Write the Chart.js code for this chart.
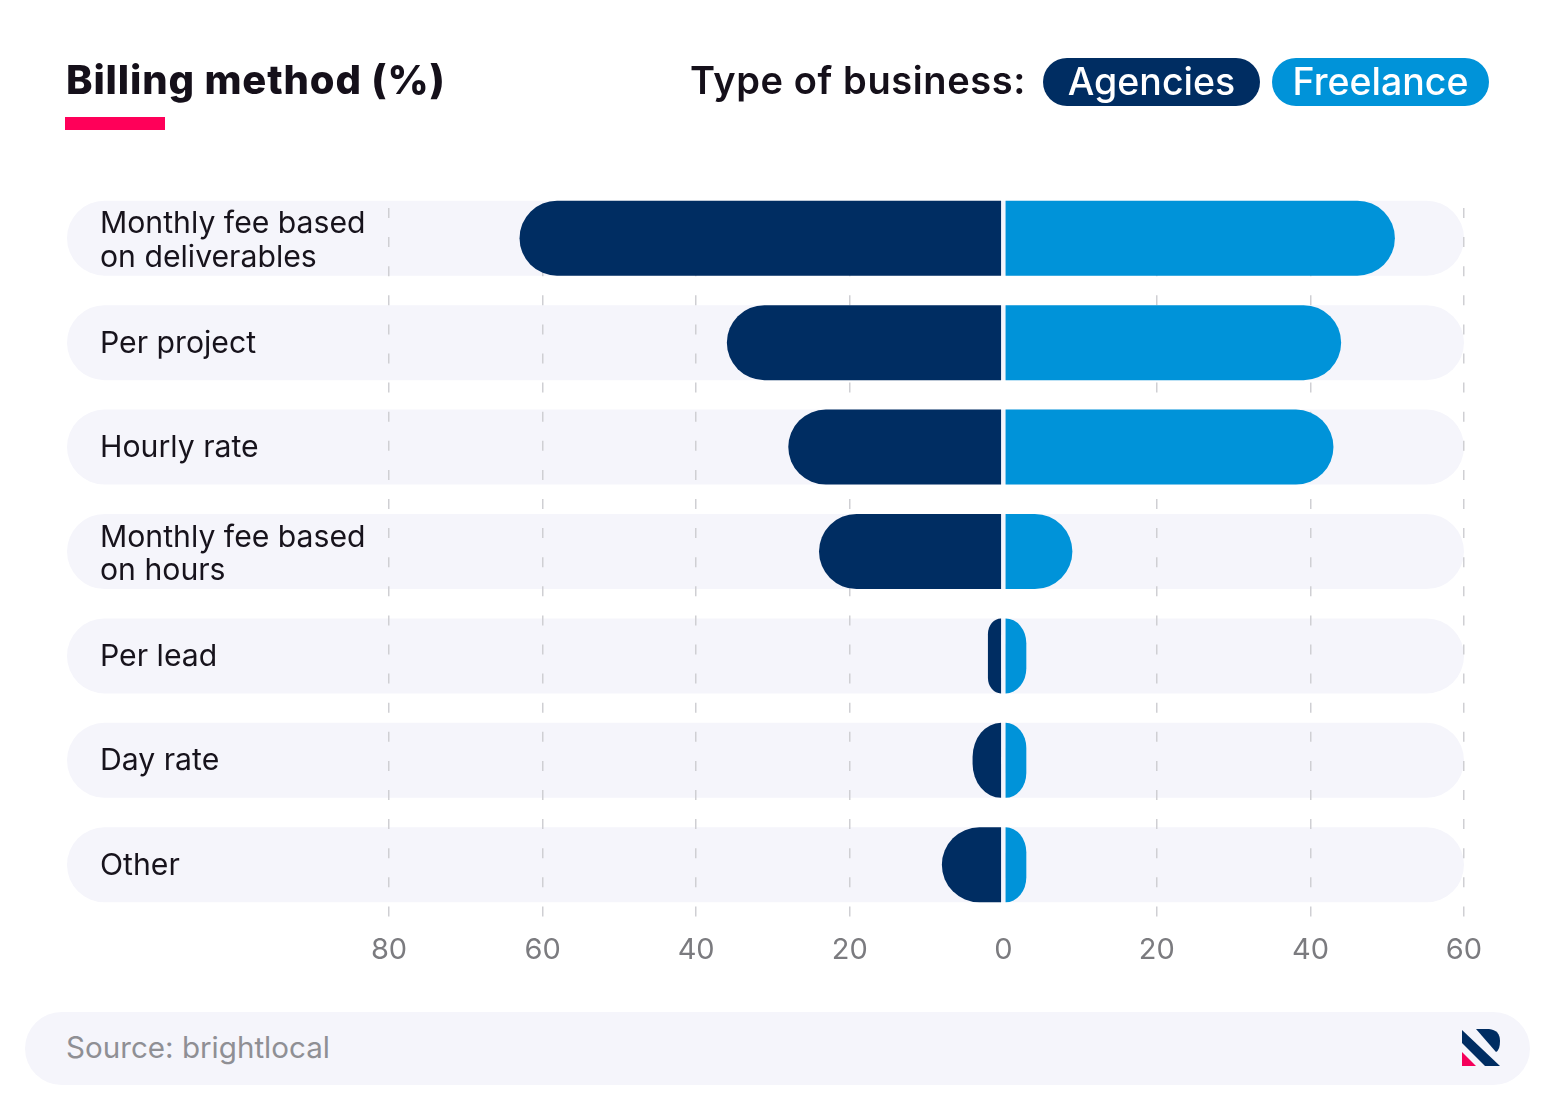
<!DOCTYPE html>
<html>
<head>
<meta charset="utf-8">
<script src="https://cdn.jsdelivr.net/npm/chart.js@4/dist/chart.umd.min.js"></script>
<style>
  html, body { margin: 0; padding: 0; background: #fff; }
  body { position: relative; width: 1552px; height: 1116px; overflow: hidden; font-family: Inter, sans-serif; }
  canvas { position: absolute; left: 0; top: 0; }
  .abs { position: absolute; white-space: nowrap; }
  #title { left: 66px; top: 56px; height: 48px; line-height: 48px; font-size: 40px; font-weight: 800; letter-spacing: 0.85px; color: #15101a; }
  #rule { left: 65px; top: 117px; width: 100px; height: 13px; background: #ff0059; }
  #legendTitle { left: 690px; top: 56px; height: 48px; line-height: 48px; font-size: 38px; font-weight: 600; letter-spacing: 0.6px; color: #15101a; }
  .pill { top: 58px; height: 48px; line-height: 47px; width: 217px; border-radius: 24px; color: #fff; font-size: 37.5px; font-weight: 500; text-align: center; }
  #footer { left: 25px; top: 1012px; width: 1505px; height: 73px; border-radius: 37px; background: #f5f5fb; }
  #source { left: 66px; top: 1027px; height: 40px; line-height: 40px; font-size: 29.6px; color: #8f8f94; }
  #logo { left: 1450px; top: 1020px; }
</style>
</head>
<body>
<canvas id="chart" width="1552" height="1116"></canvas>
<div class="abs" id="title">Billing method (%)</div>
<div class="abs" id="rule"></div>
<div class="abs" id="legendTitle">Type of business:</div>
<div class="abs pill" id="pillA" style="left:1043px"></div>
<div class="abs pill" id="pillB" style="left:1272px"></div>
<div class="abs" id="footer"></div>
<div class="abs" id="source">Source: brightlocal</div>
<svg class="abs" id="logo" width="60" height="55" viewBox="1450 1020 60 55">
  <polygon points="1462,1030 1500,1066 1485,1066 1462,1043" fill="#002d62"/>
  <path d="M1476,1029 H1489 Q1500,1030 1500,1041 Q1500,1050 1496,1052 Z" fill="#002d62"/>
  <polygon points="1462,1052 1476,1066 1462,1066" fill="#f5005a"/>
</svg>
<script>
const categories = [
  ['Monthly fee based', 'on deliverables'],
  'Per project',
  'Hourly rate',
  ['Monthly fee based', 'on hours'],
  'Per lead',
  'Day rate',
  'Other'
];
const agencies = [63, 36, 28, 24, 2, 4, 8];
const freelance = [51, 44, 43, 9, 3, 3, 3];
const seriesNames = ['Agencies', 'Freelance'];
const seriesColors = ['#002d62', '#0093d9'];

document.getElementById('pillA').textContent = seriesNames[0];
document.getElementById('pillA').style.background = seriesColors[0];
document.getElementById('pillB').textContent = seriesNames[1];
document.getElementById('pillB').style.background = seriesColors[1];

// grey rounded rows behind the grid lines
const rowBands = {
  id: 'rowBands',
  beforeDraw(chart) {
    const { ctx, scales: { y, x } } = chart;
    ctx.save();
    ctx.fillStyle = '#f5f5fb';
    categories.forEach((c, i) => {
      const cy = y.getPixelForValue(i);
      ctx.beginPath();
      ctx.roundRect(67, cy - 37.5, x.right - 67, 75, 37.5);
      ctx.fill();
    });
    ctx.restore();
  }
};

// chart.js caps bar radius at half the bar width, the small bars need more than that
const pillBars = {
  id: 'pillBars',
  beforeDatasetDraw(chart, args) {
    const { ctx } = chart;
    const color = chart.data.datasets[args.index].backgroundColor;
    ctx.save();
    ctx.fillStyle = color;
    args.meta.data.forEach(bar => {
      const dir = bar.x < bar.base ? -1 : 1;
      const start = bar.base + dir * 1.5;
      const w = Math.abs(bar.x - start);
      const r = { x: Math.min(37.5, w), y: Math.min(37.5, w * 1.2) };
      const left = dir < 0 ? bar.x : start;
      ctx.beginPath();
      ctx.roundRect(left, bar.y - bar.height / 2, w, bar.height, dir < 0 ? [r, 0, 0, r] : [0, r, r, 0]);
      ctx.fill();
    });
    ctx.restore();
    return false;
  }
};

// nudge the row labels down a little, two line ones sit lower in the original
const labelNudge = {
  id: 'labelNudge',
  afterLayout(chart) {
    chart.scales.y.getLabelItems().forEach(item => {
      item.options.translation[1] += Array.isArray(item.label) ? 3 : 1;
    });
  }
};

new Chart(document.getElementById('chart'), {
  type: 'bar',
  data: {
    labels: categories,
    datasets: [
      { label: seriesNames[0], data: agencies.map(v => -v), backgroundColor: seriesColors[0], barThickness: 75 },
      { label: seriesNames[1], data: freelance, backgroundColor: seriesColors[1], barThickness: 75 }
    ]
  },
  options: {
    indexAxis: 'y',
    responsive: false,
    animation: false,
    layout: { padding: { left: 100, right: 88, top: 186, bottom: 144 } },
    plugins: { legend: { display: false }, tooltip: { enabled: false } },
    scales: {
      x: {
        stacked: true,
        min: -80,
        max: 60,
        afterFit(scale) { scale.height = 55; },
        border: { display: false, dash: [0, 22].concat(Array(50).fill([10, 19.1]).flat()) },
        grid: {
          drawTicks: false,
          lineWidth: 1.5,
          color: c => (c.tick.value === 0 ? 'transparent' : '#cfcfd3')
        },
        ticks: {
          stepSize: 20,
          padding: 16,
          maxRotation: 0,
          color: '#7b7b7f',
          font: { family: 'Inter', size: 29 },
          callback: v => Math.abs(v)
        }
      },
      y: {
        stacked: true,
        afterFit(scale) { scale.width = 289; },
        border: { display: false },
        grid: { display: false },
        ticks: {
          crossAlign: 'far',
          padding: 0,
          autoSkip: false,
          color: '#17131c',
          font: { family: 'Inter', size: 30.2, lineHeight: 1.12 }
        }
      }
    }
  },
  plugins: [rowBands, pillBars, labelNudge]
});
</script>
</body>
</html>
